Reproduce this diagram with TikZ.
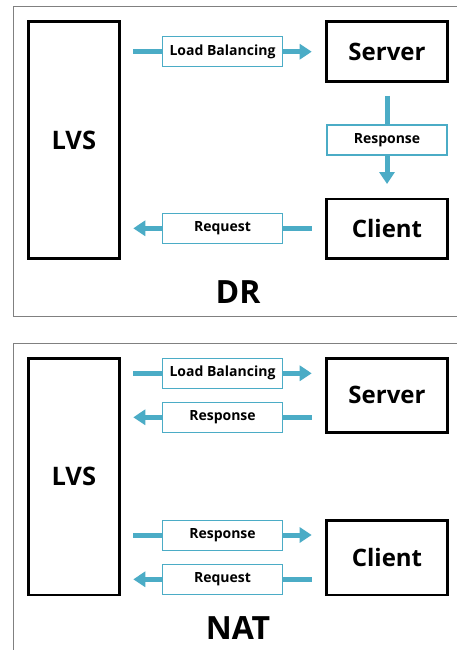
\documentclass[tikz,border=0pt]{standalone}
\usepackage{fontspec}
\setmainfont{Open Sans}
\usetikzlibrary{arrows.meta,calc}
\definecolor{teal}{HTML}{4BACC6}
\definecolor{framegray}{HTML}{808080}
\begin{document}
\begin{tikzpicture}[x=1pt,y=-1pt,
  box/.style={draw=black,line width=2.6pt,inner sep=0pt,font=\bfseries\fontsize{24}{26}\selectfont},
  lvsbox/.style={box,font=\bfseries\fontsize{25.5}{28}\selectfont},
  lbl/.style={draw=teal,fill=white,line width=1.3pt,inner sep=0pt,minimum width=120pt,minimum height=30pt,font=\bfseries\fontsize{14}{16}\selectfont},
  flow/.style={draw=teal,line width=5pt,-{Triangle[width=15pt,length=12pt]}},
  title/.style={font=\bfseries\fontsize{32}{35}\selectfont}]
\useasboundingbox (0,0) rectangle (457,650);
\clip (0,0) rectangle (457,650);
\fill[white] (0,0) rectangle (457,650);
% ---------- DR ----------
\draw[framegray,line width=1pt] (13.7,6.7) rectangle (480,316.7);
\node[lvsbox,minimum width=91pt,minimum height=236.6pt] (lvs1) at (73.8,140) {LVS};
\node[box,minimum width=120.6pt,minimum height=60pt] (srv1) at (387,51.7) {Server};
\node[box,minimum width=120.6pt,minimum height=59.3pt] (cli1) at (387,228.7) {Client};
\coordinate (a1s) at (133.3,51.7); \coordinate (a1e) at (311.7,51.7);
\coordinate (a2s) at (387,96); \coordinate (a2e) at (387,184);
\coordinate (a3s) at (311.7,228.3); \coordinate (a3e) at (133.3,228.3);
\draw[flow] (a1s) -- (a1e);
\draw[flow] (a2s) -- (a2e);
\draw[flow] (a3s) -- (a3e);
\node[lbl] (lb1) at ($(a1s)!0.5!(a1e)$) {Load Balancing};
\node[lbl] (rs1) at (387,140) {Response};
\node[lbl] (rq1) at (222.5,228.3) {Request};
\node[title] (dr) at (238,291.7) {DR};
% ---------- NAT ----------
\draw[framegray,line width=1pt] (13.7,343.3) rectangle (480,680);
\node[lvsbox,minimum width=91pt,minimum height=236.7pt] (lvs2) at (73.8,476.7) {LVS};
\node[box,minimum width=120.6pt,minimum height=74pt] (srv2) at (387,395.3) {Server};
\node[box,minimum width=120.6pt,minimum height=74.3pt] (cli2) at (387,557.8) {Client};
\coordinate (b1s) at (133.3,373.3); \coordinate (b1e) at (311.7,373.3);
\coordinate (b2s) at (311.7,417.3); \coordinate (b2e) at (133.3,417.3);
\coordinate (b3s) at (133.3,535); \coordinate (b3e) at (311.7,535);
\coordinate (b4s) at (311.7,579.3); \coordinate (b4e) at (133.3,579.3);
\draw[flow] (b1s) -- (b1e);
\draw[flow] (b2s) -- (b2e);
\draw[flow] (b3s) -- (b3e);
\draw[flow] (b4s) -- (b4e);
\node[lbl] (lb2) at (222.5,373.3) {Load Balancing};
\node[lbl] (rs2) at (222.5,417.3) {Response};
\node[lbl] (rs3) at (222.5,535.3) {Response};
\node[lbl] (rq2) at (222.5,579.6) {Request};
\node[title] (nat) at (238,628.3) {NAT};
\end{tikzpicture}
\end{document}
